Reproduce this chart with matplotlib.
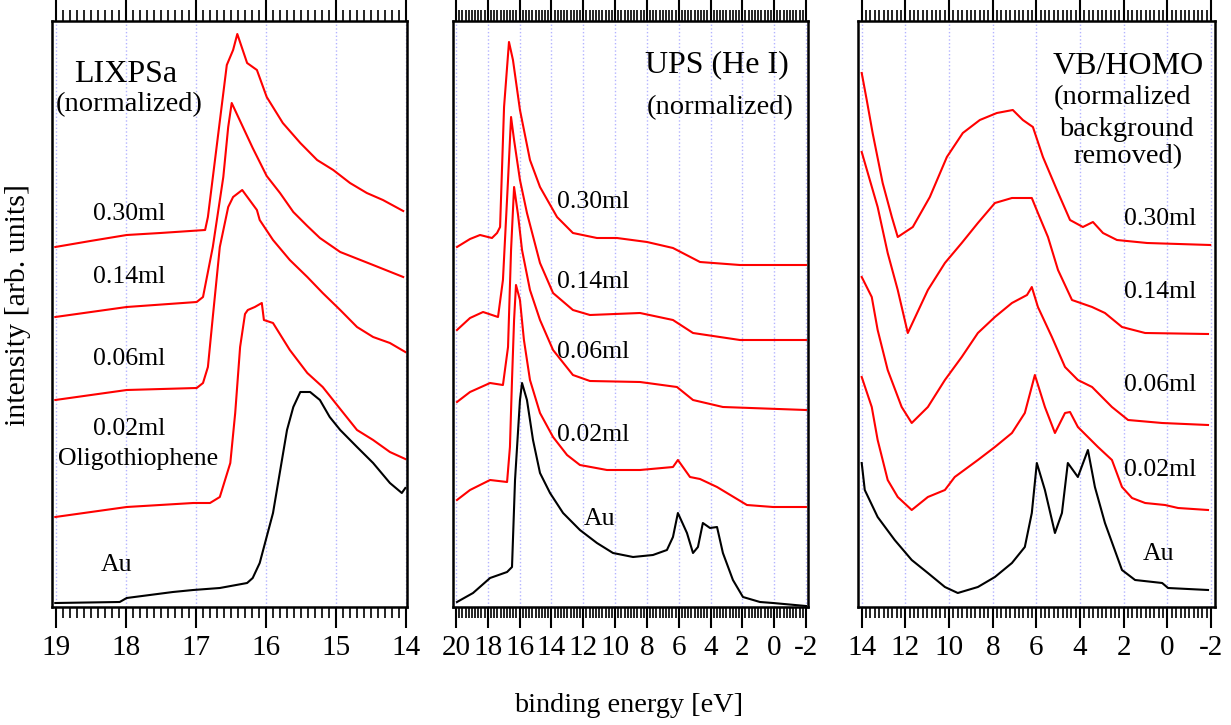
import numpy as np
import matplotlib
matplotlib.use("Agg")
import matplotlib.pyplot as plt
from matplotlib.ticker import MultipleLocator

plt.rcParams['font.family'] = ['Liberation Serif', 'DejaVu Serif']
plt.rcParams['axes.unicode_minus'] = False

# ===============================================================
# data (binding energy [eV], intensity [arb. units])
# ===============================================================
# ---- LIXPSa ----
lix_030_e = [19.01, 18.51, 17.99, 17.51, 16.87, 16.83, 16.56, 16.47, 16.41, 16.27, 16.13, 15.99, 15.76, 15.51, 15.27, 15.04, 14.80, 14.56, 14.33, 14.04]
lix_030_i = [360, 366, 372, 374, 377, 390, 542, 557, 573, 544, 537, 510, 484, 464, 447, 437, 424, 414, 407, 396]
lix_014_e = [19.01, 17.99, 16.99, 16.90, 16.76, 16.61, 16.54, 16.49, 16.33, 16.19, 15.99, 15.80, 15.61, 15.41, 15.23, 14.94, 14.47, 14.04]
lix_014_i = [290, 300, 305, 310, 360, 430, 480, 504, 480, 459, 431, 414, 395, 381, 369, 355, 342, 330]
lix_006_e = [19.01, 17.99, 16.99, 16.90, 16.83, 16.76, 16.66, 16.54, 16.47, 16.34, 16.13, 16.09, 15.90, 15.66, 15.41, 15.19, 14.94, 14.70, 14.47, 14.23, 14.01]
lix_006_i = [207, 217, 219, 224, 240, 290, 360, 400, 410, 417, 397, 387, 367, 347, 330, 314, 297, 280, 270, 264, 255]
lix_002_e = [19.01, 17.99, 17.04, 16.80, 16.66, 16.51, 16.44, 16.37, 16.30, 16.26, 16.16, 16.06, 16.03, 15.90, 15.66, 15.41, 15.19, 14.94, 14.70, 14.47, 14.23, 14.01]
lix_002_i = [90, 100, 104, 104, 110, 144, 194, 260, 293, 297, 300, 304, 287, 284, 257, 234, 220, 198, 177, 167, 155, 148]
lix_au_e = [19.01, 18.09, 17.99, 17.33, 17.04, 16.66, 16.27, 16.19, 16.09, 15.90, 15.70, 15.61, 15.51, 15.37, 15.23, 15.09, 14.94, 14.70, 14.47, 14.23, 14.06, 14.01]
lix_au_i = [4, 5, 9, 15, 17, 19, 24, 29, 44, 94, 177, 200, 215, 215, 207, 190, 177, 160, 144, 124, 114, 119]

# ---- UPS (He I) ----
ups_030_e = [19.94, 19.12, 18.49, 17.74, 17.42, 17.23, 16.98, 16.67, 16.42, 15.98, 15.35, 14.72, 13.65, 12.65, 11.14, 9.88, 7.99, 6.36, 4.66, 2.15, -2.00]
ups_030_i = [360, 368, 372, 369, 374, 380, 500, 565, 547, 497, 447, 420, 390, 374, 369, 369, 365, 359, 345, 342, 342]
ups_014_e = [19.94, 19.12, 18.30, 17.36, 17.05, 16.73, 16.54, 16.35, 15.98, 15.54, 14.72, 13.90, 12.65, 11.58, 8.43, 6.36, 5.10, 2.15, -2.00]
ups_014_i = [277, 289, 295, 290, 327, 427, 490, 467, 427, 394, 344, 314, 297, 292, 294, 287, 274, 267, 267]
ups_006_e = [19.94, 19.12, 17.86, 17.05, 16.73, 16.54, 16.35, 16.10, 15.85, 15.35, 14.72, 13.90, 12.65, 11.58, 8.43, 6.11, 5.10, 3.22, -2.00]
ups_006_i = [205, 215, 224, 222, 260, 357, 420, 392, 357, 317, 287, 257, 232, 226, 225, 220, 207, 200, 197]
ups_002_e = [19.94, 19.12, 17.86, 16.79, 16.61, 16.48, 16.35, 16.23, 15.98, 15.73, 15.35, 14.72, 13.90, 13.02, 12.21, 10.51, 8.43, 6.36, 6.05, 5.29, 4.66, 3.59, 1.71, 0.07, -2.00]
ups_002_i = [107, 117, 127, 125, 160, 227, 287, 322, 307, 267, 227, 194, 170, 152, 142, 137, 137, 140, 147, 130, 128, 120, 102, 100, 100]
ups_au_e = [19.94, 18.93, 17.86, 16.79, 16.48, 16.29, 15.98, 15.85, 15.54, 15.16, 14.72, 14.09, 13.27, 12.21, 11.14, 10.13, 8.87, 7.62, 6.74, 6.36, 6.05, 5.48, 5.10, 4.79, 4.48, 4.03, 3.59, 3.22, 2.59, 1.96, 0.89, 0.07, -2.00]
ups_au_i = [5, 14, 29, 35, 40, 127, 207, 224, 207, 167, 134, 114, 94, 77, 64, 54, 50, 52, 57, 70, 94, 74, 54, 60, 84, 79, 80, 54, 27, 10, 5, 4, 1]

# ---- VB/HOMO ----
vb_030_e = [14.00, 13.77, 13.50, 13.04, 12.62, 12.35, 11.66, 10.88, 10.10, 9.37, 8.59, 7.81, 7.08, 6.62, 6.16, 5.70, 5.06, 4.46, 3.87, 3.41, 2.95, 2.31, 0.93, -1.96]
vb_030_i = [534, 507, 474, 424, 390, 370, 380, 410, 450, 474, 487, 494, 497, 487, 480, 450, 417, 387, 380, 385, 374, 367, 364, 362]
vb_014_e = [14.00, 13.27, 12.81, 12.35, 11.89, 10.97, 10.19, 9.42, 8.68, 7.90, 7.12, 6.21, 5.93, 5.47, 5.01, 4.37, 3.45, 2.86, 2.08, 1.02, -1.86]
vb_014_i = [455, 400, 354, 317, 274, 317, 344, 364, 384, 404, 409, 409, 394, 370, 337, 307, 300, 294, 280, 274, 273]
vb_006_e = [14.00, 13.54, 13.27, 12.81, 12.17, 11.71, 10.97, 10.19, 9.42, 8.68, 7.90, 7.12, 6.43, 6.21, 5.93, 5.29, 4.69, 4.10, 3.45, 2.54, 1.80, 0.24, -1.86]
vb_006_i = [330, 310, 277, 237, 200, 184, 200, 227, 250, 274, 290, 304, 312, 320, 300, 270, 240, 227, 220, 200, 187, 184, 182]
vb_002_e = [14.00, 13.54, 13.27, 12.81, 12.35, 11.71, 10.97, 10.19, 9.74, 8.68, 7.90, 7.12, 6.53, 6.07, 5.61, 5.15, 4.69, 4.46, 4.10, 3.64, 3.18, 2.54, 2.08, 1.62, 1.02, 0.11, -0.49, -1.86]
vb_002_i = [230, 200, 167, 127, 110, 97, 110, 117, 130, 147, 160, 174, 194, 232, 200, 174, 194, 195, 180, 170, 160, 147, 120, 109, 104, 102, 99, 97]
vb_au_e = [14.00, 13.86, 13.27, 12.49, 11.71, 10.97, 10.19, 9.60, 8.68, 7.90, 7.12, 6.53, 6.21, 5.98, 5.61, 5.15, 4.83, 4.56, 4.10, 3.64, 3.32, 2.86, 2.08, 1.48, 0.24, -0.03, -1.86]
vb_au_i = [144, 117, 90, 67, 47, 34, 20, 14, 20, 30, 44, 60, 94, 144, 117, 74, 94, 144, 130, 157, 120, 84, 37, 27, 24, 19, 17]

cov_labels = ['0.30ml', '0.14ml', '0.06ml', '0.02ml']

# ===============================================================
# figure
# ===============================================================
fig = plt.figure(figsize=(12.31, 7.25), dpi=100)
W, H = 1231, 725

def make_ax(left, right, top, bottom, xlim, major, minor):
    ax = fig.add_axes([left / W, 1 - bottom / H, (right - left) / W, (bottom - top) / H])
    ax.set_xlim(*xlim)
    ax.set_ylim(0, 586)
    ax.set_yticks([])
    ax.xaxis.set_major_locator(MultipleLocator(major))
    ax.xaxis.set_minor_locator(MultipleLocator(minor))
    ax.tick_params(axis='x', which='both', direction='out', top=True, bottom=True,
                   labeltop=False, labelsize=21, pad=5)
    ax.tick_params(axis='x', which='major', length=15, width=1.5)
    ax.tick_params(axis='x', which='minor', length=8, width=1.2)
    ax.grid(axis='x', which='major', color='#b4b4ff', linestyle=':', linewidth=1.0)
    for s in ax.spines.values():
        s.set_linewidth(1.8)
    return ax

ax1 = make_ax(52, 407, 21, 607, (19.057, 13.986), 1, 0.1)
ax2 = make_ax(453, 808, 21, 607, (20.19, -2.13), 2, 0.2)
ax3 = make_ax(858, 1215, 21, 607, (14.17, -2.18), 2, 0.2)

red = '#ff0000'
lw = 1.5

# LIXPSa
for e, i in [(lix_030_e, lix_030_i), (lix_014_e, lix_014_i), (lix_006_e, lix_006_i), (lix_002_e, lix_002_i)]:
    ax1.plot(e, i, color=red, lw=lw)
ax1.plot(lix_au_e, lix_au_i, color='k', lw=lw)

# UPS
for e, i in [(ups_030_e, ups_030_i), (ups_014_e, ups_014_i), (ups_006_e, ups_006_i), (ups_002_e, ups_002_i)]:
    ax2.plot(e, i, color=red, lw=lw)
ax2.plot(ups_au_e, ups_au_i, color='k', lw=lw)

# VB/HOMO
for e, i in [(vb_030_e, vb_030_i), (vb_014_e, vb_014_i), (vb_006_e, vb_006_i), (vb_002_e, vb_002_i)]:
    ax3.plot(e, i, color=red, lw=lw)
ax3.plot(vb_au_e, vb_au_i, color='k', lw=lw)

# ---------- texts ----------
def t(ax, x, y, s, size, **kw):
    ax.text(x, y, s, fontsize=size, ha='center', va='center', **kw)

# panel 1
t(ax1, 18.0, 533, 'LIXPSa', 23)
t(ax1, 17.95, 502, '(normalized)', 20.5)
for lab, y in zip(cov_labels, [393, 330, 248, 178]):
    t(ax1, 17.96, y, lab, 18.5)
t(ax1, 17.83, 148, 'Oligothiophene', 18.5)
t(ax1, 18.13, 42, 'Au', 18.5)

# panel 2
t(ax2, 3.6, 542, 'UPS (He I)', 23)
t(ax2, 3.4, 499, '(normalized)', 20.5)
for lab, y in zip(cov_labels, [405, 325, 255, 172]):
    t(ax2, 11.35, y, lab, 18.5)
t(ax2, 11.0, 88, 'Au', 18.5)

# panel 3
t(ax3, 1.8, 540, 'VB/HOMO', 23)
t(ax3, 2.05, 509, '(normalized', 20.5)
t(ax3, 1.9, 478, 'background', 20.5)
t(ax3, 1.8, 450, 'removed)', 20.5)
for lab, y in zip(cov_labels, [388, 315, 222, 137]):
    t(ax3, 0.35, y, lab, 18.5)
t(ax3, 0.43, 53, 'Au', 18.5)

fig.text(629 / W, 1 - 705 / H, 'binding energy [eV]', fontsize=20.3, ha='center', va='center')
fig.text(18 / W, 1 - 305 / H, 'intensity [arb. units]', fontsize=21.5, ha='center', va='center',
         rotation=90)

fig.savefig('out.png', dpi=100)
